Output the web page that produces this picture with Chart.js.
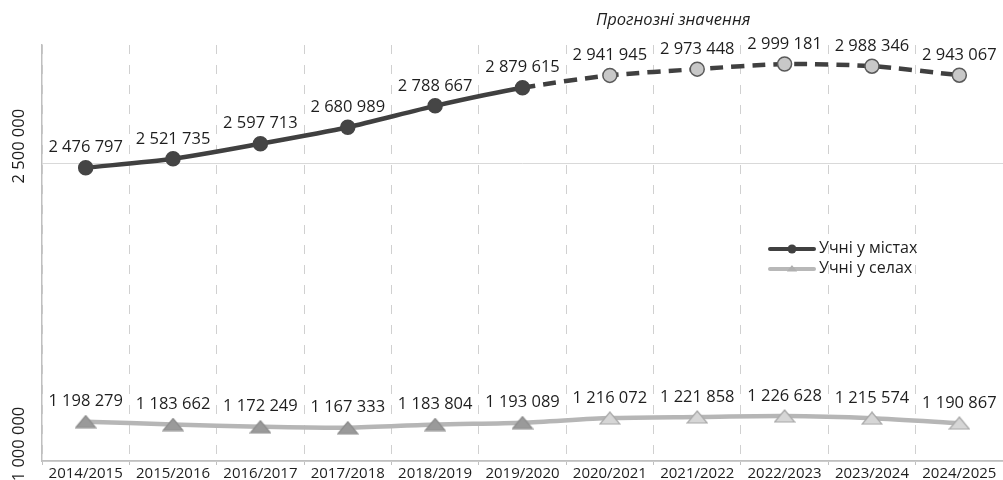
<!DOCTYPE html>
<html>
<head>
<meta charset="utf-8">
<script src="https://cdn.jsdelivr.net/npm/chart.js@4.4.1/dist/chart.umd.min.js"></script>
<style>
  html, body { margin: 0; padding: 0; background: #fff; overflow: hidden; }
  #wrap { width: 1003px; height: 480px; position: relative; }
  canvas { display: block; }
</style>
</head>
<body>
<div id="wrap"><canvas id="chart"></canvas></div>
<script>
// Data
const years = ['2014/2015', '2015/2016', '2016/2017', '2017/2018', '2018/2019', '2019/2020',
  '2020/2021', '2021/2022', '2022/2023', '2023/2024', '2024/2025'];
const urbanPupils = [2476797, 2521735, 2597713, 2680989, 2788667, 2879615,
  2941945, 2973448, 2999181, 2988346, 2943067];
const ruralPupils = [1198279, 1183662, 1172249, 1167333, 1183804, 1193089,
  1216072, 1221858, 1226628, 1215574, 1190867];
const yTicks = [1000000, 2500000];
const forecastFrom = 6; // first forecast index
const seriesNames = ['Учні у містах', 'Учні у селах'];
const forecastNote = 'Прогнозні значення';

const FONT = '"Open Sans", "Noto Sans", sans-serif';

function fmt(v) {
  return v.toString().replace(/\B(?=(\d{3})+(?!\d))/g, ' ');
}

function triangleImage(w, h, fill, stroke) {
  const c = document.createElement('canvas');
  c.width = w; c.height = h;
  const g = c.getContext('2d');
  g.beginPath();
  g.moveTo(w / 2, 1);
  g.lineTo(w - 1, h - 1);
  g.lineTo(1, h - 1);
  g.closePath();
  g.fillStyle = fill;
  g.fill();
  g.strokeStyle = stroke;
  g.lineWidth = 1.2;
  g.stroke();
  return c;
}

const triActual = triangleImage(22, 14, '#9a9a9a', '#8c8c8c');
const triForecast = triangleImage(22, 14, '#d6d6d6', '#a8a8a8');

const isForecast = i => i >= forecastFrom;

// labels, y ticks, legend, note
const extrasPlugin = {
  id: 'extras',
  afterDatasetsDraw(chart) {
    const { ctx, chartArea, scales } = chart;
    ctx.save();
    ctx.fillStyle = '#1e1e1e';
    ctx.textAlign = 'center';
    ctx.textBaseline = 'middle';
    ctx.font = '16.5px ' + FONT;
    chart.data.datasets.forEach((ds, i) => {
      const meta = chart.getDatasetMeta(i);
      meta.data.forEach((pt, j) => {
        ctx.fillText(fmt(ds.data[j]), pt.x, pt.y - 20);
      });
    });

    // y tick labels (rotated)
    ctx.font = '16.5px ' + FONT;
    scales.y.ticks.forEach(t => {
      const y = scales.y.getPixelForValue(t.value) - 17;
      ctx.save();
      ctx.translate(19, y);
      ctx.rotate(-Math.PI / 2);
      ctx.fillText(fmt(t.value), 0, 0);
      ctx.restore();
    });

    // forecast note
    ctx.font = 'italic 16.5px ' + FONT;
    const nx = scales.x.getPixelForValue(7) - 24;
    ctx.fillText(forecastNote, nx, 20);

    // legend
    const lx = chartArea.right - 233;
    const ly = chartArea.top + 204;
    ctx.font = '16px ' + FONT;
    ctx.textAlign = 'left';
    ctx.lineCap = 'round';
    // urban
    ctx.strokeStyle = '#404040';
    ctx.lineWidth = 4;
    ctx.beginPath(); ctx.moveTo(lx, ly); ctx.lineTo(lx + 44, ly); ctx.stroke();
    ctx.fillStyle = '#404040';
    ctx.beginPath(); ctx.arc(lx + 22, ly, 4.5, 0, Math.PI * 2); ctx.fill();
    ctx.fillStyle = '#1e1e1e';
    ctx.fillText(seriesNames[0], lx + 49, ly - 1);
    // rural
    const ly2 = ly + 20;
    ctx.strokeStyle = '#b8b8b8';
    ctx.beginPath(); ctx.moveTo(lx, ly2); ctx.lineTo(lx + 44, ly2); ctx.stroke();
    ctx.drawImage(triangleImage(10, 7, '#b0b0b0', '#b0b0b0'), lx + 17, ly2 - 4);
    ctx.fillStyle = '#1e1e1e';
    ctx.fillText(seriesNames[1], lx + 49, ly2 - 1);
    ctx.restore();
  }
};

new Chart(document.getElementById('chart'), {
  type: 'line',
  data: {
    labels: years,
    datasets: [
      {
        label: seriesNames[0],
        data: urbanPupils,
        borderColor: '#404040',
        borderWidth: 4.5,
        tension: 0.25,
        pointRadius: 7,
        pointHoverRadius: 7,
        pointBackgroundColor: urbanPupils.map((v, i) => isForecast(i) ? '#c8c8c8' : '#454545'),
        pointBorderColor: urbanPupils.map((v, i) => isForecast(i) ? '#5a5a5a' : '#454545'),
        pointBorderWidth: 1.5,
        segment: {
          borderDash: c => c.p0DataIndex >= forecastFrom - 1 ? [13, 8] : undefined
        }
      },
      {
        label: seriesNames[1],
        data: ruralPupils,
        borderColor: '#b6b6b6',
        borderWidth: 4.5,
        tension: 0.25,
        pointStyle: ruralPupils.map((v, i) => isForecast(i) ? triForecast : triActual),
        pointRadius: 8
      }
    ]
  },
  options: {
    responsive: true,
    maintainAspectRatio: false,
    animation: false,
    layout: { autoPadding: false, padding: { left: 42, top: 45, right: 0, bottom: -3 } },
    plugins: {
      legend: { display: false },
      tooltip: { enabled: false }
    },
    scales: {
      x: {
        offset: true,
        afterFit: s => { s.paddingRight = 0; s.paddingLeft = 0; },
        grid: { color: '#d0d0d0', lineWidth: 1, offset: true, tickLength: 4, tickColor: '#bfbfbf' },
        border: { color: '#bfbfbf', width: 1.5, dash: [9, 11] },
        ticks: { color: '#1e1e1e', font: { family: FONT, size: 15 }, padding: 0, maxRotation: 0, autoSkip: false }
      },
      y: {
        min: 1000000,
        max: 3095000,
        afterBuildTicks: s => { s.ticks = yTicks.map(v => ({ value: v })); },
        grid: { color: '#d9d9d9', lineWidth: 1, drawTicks: false },
        border: { color: '#bfbfbf', width: 1.5 },
        ticks: { display: false }
      }
    }
  },
  plugins: [extrasPlugin]
});
</script>
</body>
</html>
